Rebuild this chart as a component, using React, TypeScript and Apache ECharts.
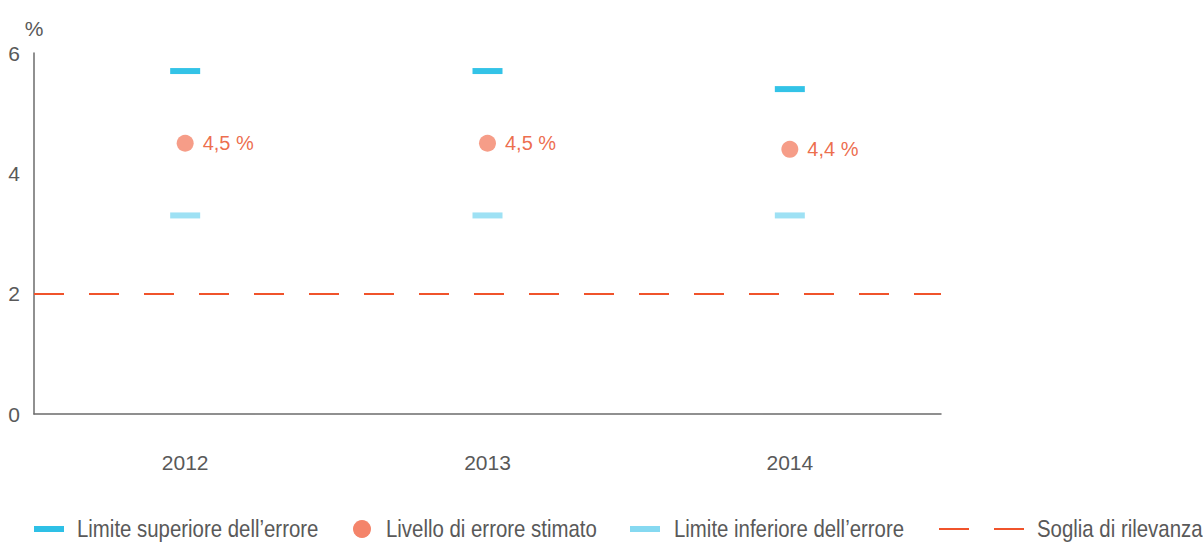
import React, { useEffect, useRef } from "react";
import * as echarts from "echarts";

const categories = ["2012", "2013", "2014"];
const upperLimit = [5.7, 5.7, 5.4];
const estimated = [4.5, 4.5, 4.4];
const lowerLimit = [3.3, 3.3, 3.3];
const threshold = 2;
const yTicks = [0, 2, 4, 6];
const legendNames = [
  "Limite superiore dell\u2019errore",
  "Livello di errore stimato",
  "Limite inferiore dell\u2019errore",
  "Soglia di rilevanza",
];

const FONT = "'Liberation Sans', Arial, sans-serif";
const C_UPPER = "#00b4e1";
const C_LOWER = "#86d9f1";
const C_DOT = "#f4846a";
const C_LABEL = "#e8471c";
const C_THRESH = "#f0532b";
const C_TEXT = "#595959";

export default function App() {
  const ref = useRef<HTMLDivElement>(null);
  useEffect(() => {
    if (!ref.current) return;
    const chart = echarts.init(ref.current, undefined, { renderer: "svg" });
    const legendY = 529;
    const SX = 0.85;
    const legendText = (x: number, text: string) => ({
      type: "text",
      x,
      y: legendY,
      scaleX: SX,
      style: { text, fill: C_TEXT, font: `24px ${FONT}`, verticalAlign: "middle" },
    });
    chart.setOption({
      animation: false,
      grid: { left: 34, right: 262, top: 53, bottom: 130, containLabel: false },
      xAxis: {
        type: "category",
        data: categories,
        boundaryGap: true,
        axisLine: { lineStyle: { color: "#6b6b6b", width: 1.5 } },
        axisTick: { show: false },
        axisLabel: { color: C_TEXT, fontSize: 21, fontFamily: FONT, margin: 38 },
      },
      yAxis: {
        type: "value",
        min: yTicks[0],
        max: yTicks[yTicks.length - 1],
        interval: 2,
        name: "%",
        nameLocation: "end",
        nameGap: 14,
        nameTextStyle: { color: C_TEXT, fontSize: 21, fontFamily: FONT },
        splitLine: { show: false },
        axisLine: { show: true, lineStyle: { color: "#6b6b6b", width: 1.5 } },
        axisTick: { show: false },
        axisLabel: { color: C_TEXT, fontSize: 21, fontFamily: FONT, margin: 14 },
      },
      series: [
        {
          name: legendNames[0],
          type: "scatter",
          data: upperLimit,
          symbol: "rect",
          symbolSize: [30, 6],
          itemStyle: { color: C_UPPER },
        },
        {
          name: legendNames[1],
          type: "scatter",
          data: estimated,
          symbol: "circle",
          symbolSize: 17,
          itemStyle: { color: C_DOT },
          label: {
            show: true,
            position: "right",
            distance: 9,
            color: C_LABEL,
            fontSize: 20,
            fontFamily: FONT,
            formatter: (p: any) => String(p.value).replace(".", ",") + " %",
          },
        },
        {
          name: legendNames[2],
          type: "scatter",
          data: lowerLimit,
          symbol: "rect",
          symbolSize: [30, 6],
          itemStyle: { color: C_LOWER },
        },
        {
          name: legendNames[3],
          type: "line",
          data: [],
          markLine: {
            silent: true,
            symbol: "none",
            label: { show: false },
            lineStyle: { color: C_THRESH, width: 2, type: [30, 25] },
            data: [{ yAxis: threshold }],
          },
        },
      ],
      graphic: [
        { type: "rect", shape: { x: 34, y: legendY - 3, width: 30, height: 6 }, style: { fill: "#2ec0e6" } },
        legendText(77, legendNames[0]),
        { type: "circle", shape: { cx: 362, cy: legendY, r: 9 }, style: { fill: C_DOT } },
        legendText(386, legendNames[1]),
        { type: "rect", shape: { x: 630, y: legendY - 3, width: 30, height: 6 }, style: { fill: C_LOWER } },
        legendText(674, legendNames[2]),
        { type: "line", shape: { x1: 939, y1: legendY, x2: 969, y2: legendY }, style: { stroke: C_THRESH, lineWidth: 2 } },
        { type: "line", shape: { x1: 994, y1: legendY, x2: 1024, y2: legendY }, style: { stroke: C_THRESH, lineWidth: 2 } },
        legendText(1037, legendNames[3]),
      ],
    });
    return () => chart.dispose();
  }, []);
  return <div ref={ref} style={{ width: 1203, height: 544, position: "absolute", left: 0, top: 0 }} />;
}
